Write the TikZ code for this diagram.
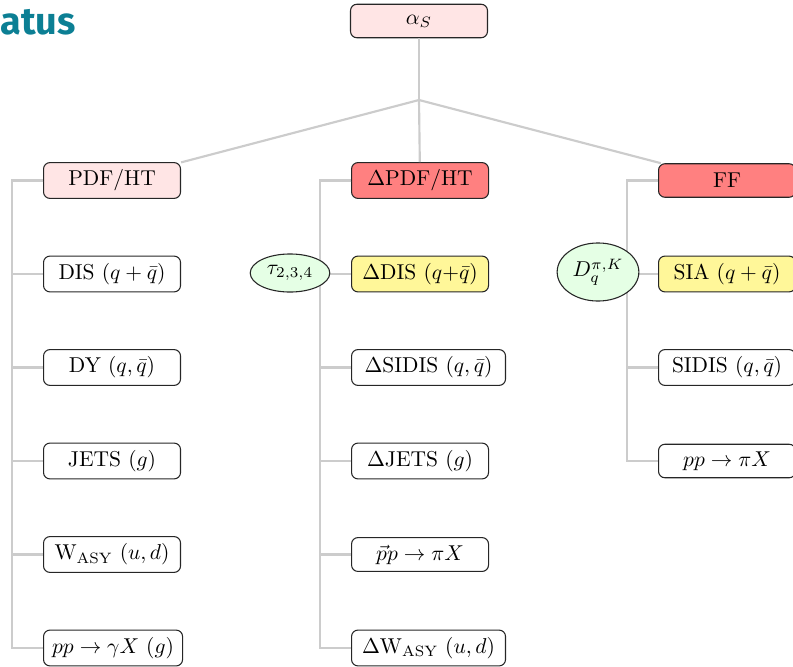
\documentclass[tikz,border=0pt]{standalone}
\usepackage{fontspec}
\usepackage{tikz}
\usetikzlibrary{calc}
\usetikzlibrary{positioning}
\usetikzlibrary{shapes.geometric}
\newfontfamily\titlefont{Fira Sans}
\definecolor{titleteal}{RGB}{12,127,148}
\definecolor{boxyellow}{RGB}{255,247,153}

\begin{document}
\begin{tikzpicture}[x=0.465pt, y=-0.465pt,
    box/.style={draw=black!85, line width=0.5pt, rounded corners=3pt,
      minimum width=63.7pt, minimum height=15.6pt, inner xsep=4pt, anchor=west},
    widebox/.style={box, minimum width=71.6pt},
    pinkbox/.style={box, fill=red!10},
    redbox/.style={box, fill=red!50},
    yellowbox/.style={box, fill=boxyellow},
    blob/.style={draw=black!85, line width=0.5pt, ellipse, fill=green!10, inner sep=0pt},
    fork/.style={draw=gray!40, line width=1pt}
  ]
  \useasboundingbox (0,0) rectangle (793,666);

  \node[font=\titlefont\bfseries\fontsize{17.6}{20}\selectfont,
    text=titleteal, anchor=base west, inner sep=0pt] (title) at (0,35) {atus};

  % top of the tree
  \node[pinkbox, anchor=center] (alpha) at (419,21) {$\alpha_S$};
  \node[pinkbox] (pdf) at (43,180.5) {PDF/HT};
  \node[redbox] (dpdf) at (351,180.5) {$\Delta$PDF/HT};
  \node[redbox] (ff) at (658,180.5) {FF};

  % the three columns
  \foreach \name/\sty/\txt [count=\i] in {
      dis/box/{DIS $(q+\bar q)$},
      dy/box/{DY $(q,\bar q)$},
      jets/box/{JETS $(g)$},
      wasy/box/{W$_{\mathrm{ASY}}$ $(u,d)$},
      ppg/box/{$pp\to\gamma X$ $(g)$}}
    \node[\sty] (\name) at (43,180.5+93.5*\i) {\txt};
  \foreach \name/\sty/\txt [count=\i] in {
      ddis/yellowbox/{$\Delta$DIS $(q{+}\bar q)$},
      dsidis/widebox/{$\Delta$SIDIS $(q,\bar q)$},
      djets/box/{$\Delta$JETS $(g)$},
      pol/box/{$\vec{p}p\to\pi X$},
      dwasy/widebox/{$\Delta$W$_{\mathrm{ASY}}$ $(u,d)$}}
    \node[\sty] (\name) at (351,180.5+93.5*\i) {\txt};
  \foreach \name/\sty/\txt [count=\i] in {
      sia/yellowbox/{SIA $(q+\bar q)$},
      sidis/box/{SIDIS $(q,\bar q)$},
      pppi/box/{$pp\to\pi X$}}
    \node[\sty] (\name) at (658,180.5+93.5*\i) {\txt};

  % connectors
  \coordinate (split) at (419,100);
  \draw[fork] (alpha) -- (split);
  \foreach \c in {pdf,dpdf,ff}
    \draw[fork] (split) -- (\c);
  \foreach \c in {dis,dy,jets,wasy,ppg}
    \draw[fork] (pdf.west) -- ++(-31,0) |- (\c.west);
  \foreach \c in {ddis,dsidis,djets,pol,dwasy}
    \draw[fork] (dpdf.west) -- ++(-31,0) |- (\c.west);
  \foreach \c in {sia,sidis,pppi}
    \draw[fork] (ff.west) -- ++(-31,0) |- (\c.west);

  % the ellipses sit on the forks
  \node[blob, minimum width=37pt, minimum height=17.7pt] (tau) at (290,273) {$\tau_{2,3,4}$};
  \node[blob, minimum width=38pt, minimum height=27pt] (dq) at (598,272) {$D_q^{\pi,K}$};
\end{tikzpicture}
\end{document}
